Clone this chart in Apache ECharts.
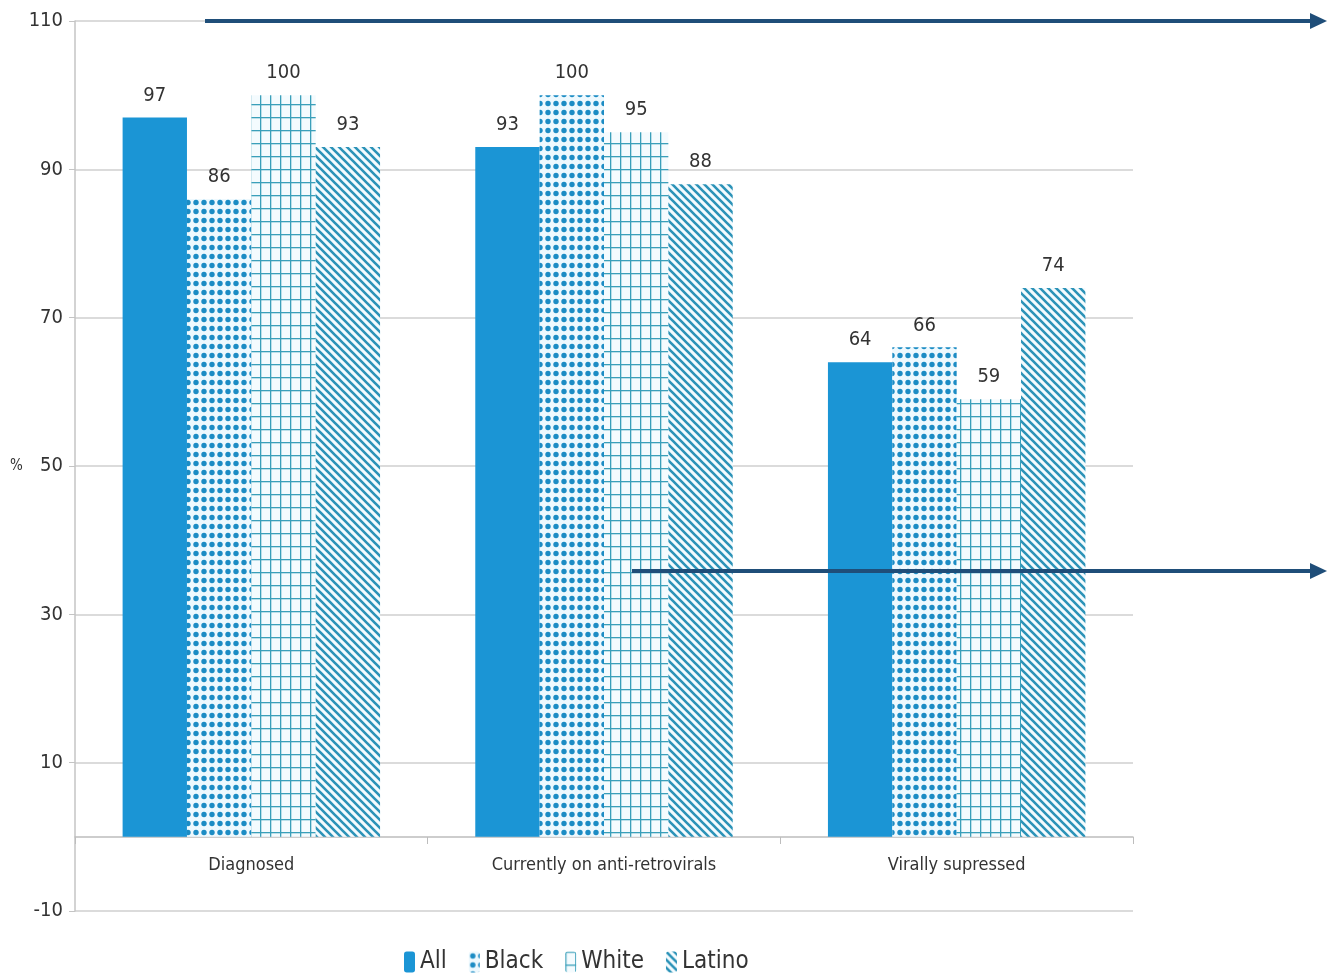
<!DOCTYPE html>
<html lang="en">
<head>
    <meta charset="UTF-8">
    <title>Care continuum</title>
    <script src="https://cdn.jsdelivr.net/npm/echarts@6.0.0/dist/echarts.min.js"></script>
    <style>
        html, body { margin: 0; padding: 0; background: #fff; }
    </style>
</head>
<body>
<div id="chart" style="width:1327px;height:976px;"></div>

<script type="text/javascript">
    // data
    var categories = ['Diagnosed', 'Currently on anti-retrovirals', 'Virally supressed'];
    var seriesNames = ['All', 'Black', 'White', 'Latino'];
    var allValues = [97, 93, 64];
    var blackValues = [86, 100, 66];
    var whiteValues = [100, 95, 59];
    var latinoValues = [93, 88, 74];
    var yTicks = [-10, 10, 30, 50, 70, 90, 110];

    var FONT = '"Liberation Sans Narrow", "DejaVu Sans Condensed", "Liberation Sans", sans-serif';
    var BLUE = '#1b95d5';

    function makeTile(w, h, draw) {
        var c = document.createElement('canvas');
        c.width = w;
        c.height = h;
        var ctx = c.getContext('2d');
        draw(ctx, w, h);
        return { image: c, repeat: 'repeat' };
    }

    // dotted fill for "Black"
    var dotsFill = makeTile(8, 9, function (ctx, w, h) {
        ctx.fillStyle = '#eef9fe';
        ctx.fillRect(0, 0, w, h);
        ctx.fillStyle = '#1c8cc4';
        ctx.beginPath();
        ctx.arc(4, 4.5, 2.7, 0, Math.PI * 2);
        ctx.fill();
    });

    // grid fill for "White"
    var gridFill = makeTile(10, 13, function (ctx, w, h) {
        ctx.fillStyle = '#f4fbfe';
        ctx.fillRect(0, 0, w, h);
        ctx.fillStyle = '#3a9fba';
        ctx.fillRect(0, 0, w, 1.3);
        ctx.fillRect(0, 0, 1.3, h);
    });

    // diagonal stripes for "Latino"
    var stripeFill = makeTile(8, 8, function (ctx, w, h) {
        ctx.fillStyle = '#f4fbfe';
        ctx.fillRect(0, 0, w, h);
        ctx.strokeStyle = '#2c93b8';
        ctx.lineWidth = 2.6;
        ctx.beginPath();
        ctx.moveTo(-2, -2); ctx.lineTo(w + 2, h + 2);
        ctx.moveTo(-2, h - 2); ctx.lineTo(2, h + 2);
        ctx.moveTo(w - 2, -2); ctx.lineTo(w + 2, 2);
        ctx.stroke();
    });

    var fills = [BLUE, dotsFill, gridFill, stripeFill];
    var values = [allValues, blackValues, whiteValues, latinoValues];

    var series = seriesNames.map(function (name, i) {
        return {
            name: name,
            type: 'bar',
            data: values[i],
            barGap: '0%',
            barCategoryGap: '27%',
            itemStyle: { color: fills[i] },
            label: {
                show: true,
                position: 'top',
                distance: 12,
                color: '#333',
                fontFamily: FONT,
                fontSize: 20
            }
        };
    });

    var chart = echarts.init(document.getElementById('chart'));

    function arrow(x1, x2, y) {
        var c = '#1f4e79';
        return {
            type: 'group',
            silent: true,
            z: 100,
            children: [
                { type: 'line', z: 100, shape: { x1: x1, y1: y, x2: x2 - 14, y2: y }, style: { stroke: c, lineWidth: 4 } },
                { type: 'polygon', z: 100, shape: { points: [[x2 - 17, y - 8], [x2, y], [x2 - 17, y + 8]] }, style: { fill: c } }
            ]
        };
    }

    // the zero line sits 74px above the grid bottom (-10)
    chart.setOption({
        animation: false,
        textStyle: { fontFamily: FONT },
        grid: { left: 75, right: 194, top: 21, bottom: 65, containLabel: false },
        legend: {
            data: seriesNames,
            left: 399,
            bottom: -3,
            itemWidth: 11,
            itemHeight: 21,
            itemGap: 22,
            textStyle: { fontFamily: FONT, fontSize: 24, color: '#333' }
        },
        xAxis: {
            type: 'category',
            data: categories,
            position: 'bottom',
            offset: -74,
            axisLine: { onZero: false, lineStyle: { color: '#bdbdbd', width: 1.5 } },
            axisTick: { show: true, length: 7, lineStyle: { color: '#bdbdbd' } },
            axisLabel: { color: '#333', fontFamily: FONT, fontSize: 18, margin: 19 }
        },
        yAxis: {
            type: 'value',
            min: yTicks[0],
            max: yTicks[yTicks.length - 1],
            interval: 20,
            name: '%',
            nameLocation: 'middle',
            nameRotate: 0,
            nameGap: 52,
            nameTextStyle: { color: '#333', fontFamily: FONT, fontSize: 15 },
            axisLine: { show: true, lineStyle: { color: '#c4c4c4', width: 1.5 } },
            axisTick: { show: true, length: 6, inside: false, lineStyle: { color: '#c4c4c4' } },
            axisLabel: { color: '#333', fontFamily: FONT, fontSize: 20, margin: 12 },
            splitLine: { show: true, lineStyle: { color: '#cfcfcf', width: 1.5 } }
        },
        series: series,
        graphic: [arrow(205, 1327, 21), arrow(632, 1327, 571)]
    });
</script>
</body>
</html>
